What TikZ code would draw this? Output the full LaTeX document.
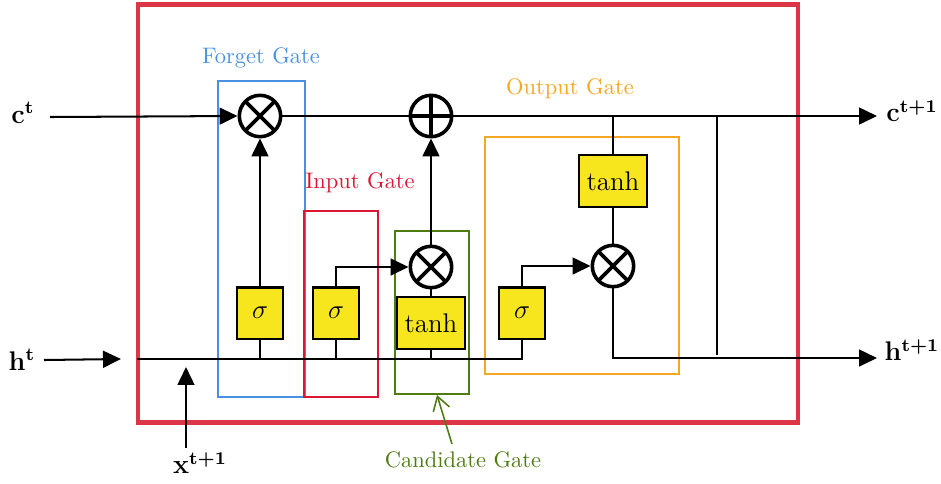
\documentclass[tikz,border=0pt]{standalone}
\usetikzlibrary{arrows.meta}
\definecolor{framered}{RGB}{220,53,69}
\definecolor{forgetblue}{RGB}{74,144,226}
\definecolor{inputred}{RGB}{218,22,52}
\definecolor{candgreen}{RGB}{78,124,16}
\definecolor{outorange}{RGB}{245,166,35}
\definecolor{gateyellow}{RGB}{247,230,30}
\tikzset{
  gbox/.style={draw, fill=gateyellow, line width=0.9pt, inner sep=0pt, minimum width=20.5pt, minimum height=22.7pt, font=\large},
  tbox/.style={gbox, minimum width=30.3pt, minimum height=23.1pt},
  mult/.style={circle, draw, line width=1.6pt, minimum size=18.4pt, inner sep=0pt,
    path picture={\draw[line width=1.6pt] (path picture bounding box.north west) -- (path picture bounding box.south east)
      (path picture bounding box.north east) -- (path picture bounding box.south west);}},
  addn/.style={circle, draw, line width=1.6pt, minimum size=18.4pt, inner sep=0pt,
    path picture={\draw[line width=1.6pt] (path picture bounding box.north) -- (path picture bounding box.south)
      (path picture bounding box.east) -- (path picture bounding box.west);}},
  wire/.style={line width=0.9pt},
  arr/.style={wire, -{Triangle[length=8pt,width=7.5pt]}},
  gatebox/.style={draw, line width=0.8pt, inner sep=0pt, fill=none},
  gatelabel/.style={font=\normalsize},
  iolabel/.style={font=\large\boldmath},
}
\begin{document}
\begin{tikzpicture}[x=0.445pt, y=-0.445pt]
\useasboundingbox (0,0) rectangle (941,483);
% outer frame
\node[draw=framered, line width=2.2pt, inner sep=0pt, minimum width=293.7pt, minimum height=186pt] (frame) at (468,213.5) {};
% gate boxes
\node[gatebox, draw=forgetblue, minimum width=38.7pt, minimum height=140.6pt] (fgate) at (261.5,239) {};
\node[gatebox, draw=inputred, minimum width=32.9pt, minimum height=82.8pt] (igate) at (341,304) {};
\node[gatebox, draw=candgreen, minimum width=32.9pt, minimum height=72.5pt] (cgate) at (432,312.5) {};
\node[gatebox, draw=outorange, minimum width=86.3pt, minimum height=105.5pt] (ogate) at (582,255.5) {};
% gate labels
\node[gatelabel, text=forgetblue] (fgl) at (261,58) {Forget Gate};
\node[gatelabel, text=inputred] (igl) at (360,183) {Input Gate};
\node[gatelabel, text=outorange] (ogl) at (570,89) {Output Gate};
\node[gatelabel, text=candgreen] (cgl) at (463,460) {Candidate Gate};
% operators
\node[mult] (fm) at (260,116) {};
\node[addn] (add) at (431,116) {};
\node[mult] (im) at (431,267) {};
\node[mult] (om) at (613,266) {};
% activation boxes
\node[gbox] (fs) at (260,313) {$\sigma$};
\node[gbox] (is) at (336,313) {$\sigma$};
\node[tbox] (ct) at (431,323) {tanh};
\node[gbox] (os) at (522,313) {$\sigma$};
\node[tbox] (ot) at (613,181) {tanh};
% io labels
\node[iolabel] (ctl) at (23,113) {$\mathbf{c}^{\mathbf{t}}$};
\node[iolabel] (htl) at (22,360) {$\mathbf{h}^{\mathbf{t}}$};
\node[iolabel] (xtl) at (200,463) {$\mathbf{x}^{\mathbf{t+1}}$};
\node[iolabel] (cnl) at (912,111) {$\mathbf{c}^{\mathbf{t+1}}$};
\node[iolabel] (hnl) at (912,350) {$\mathbf{h}^{\mathbf{t+1}}$};
% coordinates
\coordinate (cin) at (50,117);
\coordinate (cout) at (877,116);
\coordinate (hin0) at (44,360);
\coordinate (hin1) at (121,359);
\coordinate (hstart) at (137,359);
\coordinate (hout) at (877,358);
\coordinate (xin0) at (186,448);
\coordinate (xin1) at (186,367);
\coordinate (otc) at (613,116);
\coordinate (tap1) at (717,116);
\coordinate (tap2) at (717,355);
\coordinate (cga) at (452,444);
\coordinate (cgb) at (437,395);
% cell state
\draw[arr] (cin) -- (fm.west);
\draw[wire] (fm.east) -- (add.west);
\draw[arr] (add.east) -- (cout);
% hidden input
\draw[arr] (hin0) -- (hin1);
\draw[arr] (xin0) -- (xin1);
\draw[wire] (hstart) -| (os.south);
\draw[wire] (fs.south) -- (fs.south |- hstart);
\draw[wire] (is.south) -- (is.south |- hstart);
\draw[wire] (ct.south) -- (ct.south |- hstart);
% forget
\draw[arr] (fs.north) -- (fm.south);
% input / candidate
\draw[arr] (is.north) |- (im.west);
\draw[wire] (ct.north) -- (im.south);
\draw[arr] (im.north) -- (add.south);
% output
\draw[arr] (os.north) |- (om.west);
\draw[wire] (otc) -- (ot.north);
\draw[wire] (ot.south) -- (om.north);
\draw[arr] (om.south) |- (hout);
\draw[wire] (tap1) -- (tap2);
% candidate label arrow
\draw[candgreen, line width=0.7pt, -{Straight Barb[length=6pt,width=7.5pt]}] (cga) -- (cgb);
\end{tikzpicture}
\end{document}
